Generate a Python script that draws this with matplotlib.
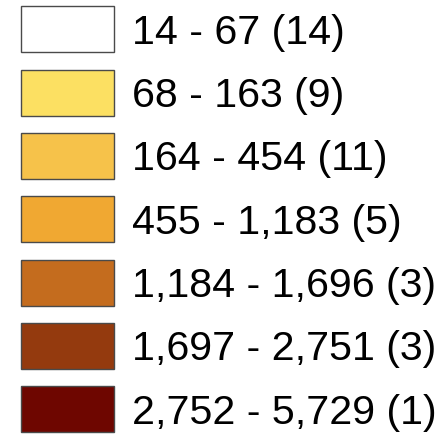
import matplotlib
matplotlib.use("Agg")
import matplotlib.pyplot as plt

# legend classes of a choropleth map
labels = ["14 - 67 (14)", "68 - 163 (9)", "164 - 454 (11)", "455 - 1,183 (5)",
          "1,184 - 1,696 (3)", "1,697 - 2,751 (3)", "2,752 - 5,729 (1)"]
colors = ["#FFFFFF", "#FCE062", "#F6C24A", "#F0A832",
          "#C46C1E", "#943A0E", "#6E0600"]

plt.rcParams["font.family"] = ["Liberation Sans", "DejaVu Sans"]

fig = plt.figure(figsize=(4.42, 4.35), dpi=100)
ax = fig.add_axes([0, 0, 1, 1])
ax.set_xlim(0, 442)
ax.set_ylim(6.393, -0.479)
ax.axis("off")

rows = range(len(labels))
ax.barh(list(rows), [93.6] * len(labels), left=20.7, height=0.727,
        color=colors, edgecolor="#4a4a4a", linewidth=1.0)
for i, lab in zip(rows, labels):
    ax.text(132, i + 0.04, lab, fontsize=29.6, va="center", ha="left", color="black")

fig.savefig("out.png", dpi=100)
